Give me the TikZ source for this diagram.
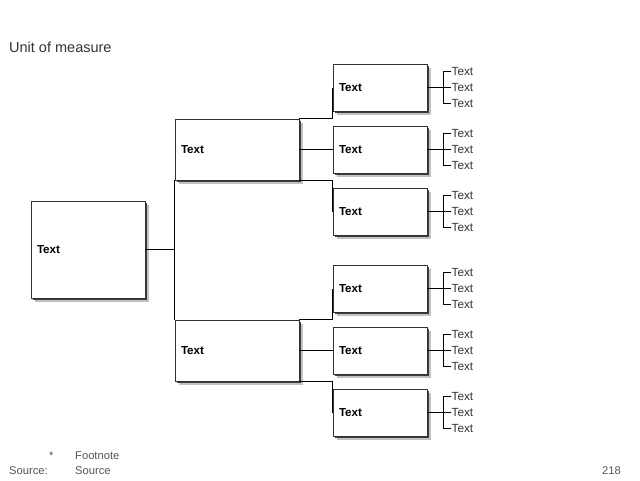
\documentclass[tikz,border=0pt]{standalone}
\usepackage{fontspec}
\setmainfont{Liberation Sans}
\usetikzlibrary{shadows}
\definecolor{edge}{HTML}{333333}
\definecolor{foot}{HTML}{555555}
\begin{document}
\begin{tikzpicture}[x=1pt,y=-1pt,
  box/.style={draw=edge, fill=white, line width=0.8pt, rectangle,
    general shadow={shadow xshift=3.5pt, shadow yshift=-3.5pt, fill=black!40, opacity=0.6},
    drop shadow={shadow xshift=2.2pt, shadow yshift=-2.2pt, fill=black!85, opacity=0.85},
    font=\bfseries\fontsize{11.6}{13}\selectfont, align=left, inner xsep=6pt, inner ysep=0pt},
  leaf/.style={font=\fontsize{11.8}{13}\selectfont, text=edge, anchor=west, inner sep=0pt},
  conn/.style={draw=black, line width=1pt},
  brk/.style={draw=black, line width=1pt},
  footn/.style={font=\fontsize{11.2}{12}\selectfont, text=foot, inner sep=0pt}]
\useasboundingbox (0,0) rectangle (640,480);

\node[font=\fontsize{14.5}{16}\selectfont, text=edge, anchor=west, inner sep=0pt] (title) at (9,47) {Unit of measure};

% root
\node[box, text width=102pt, minimum height=97pt] (root) at (88,249.5) {Text};
% level 2
\node[box, text width=112pt, minimum height=61pt] (a) at (237,149.5) {Text};
\node[box, text width=112pt, minimum height=61pt] (b) at (237,350.5) {Text};
% level 3
\foreach \n/\y in {a1/87.5, a2/149.5, a3/211.5, b1/288.5, b2/350.5, b3/412.5}{
  \node[box, text width=82pt, minimum height=47pt] (\n) at (380,\y) {Text};
}

% connectors root -> level 2
\coordinate (rj) at (175,249.5);
\draw[conn] (root.east) -- (rj);
\draw[conn] (a.south west) -- (b.north west);

% level 2 -> level 3
\draw[conn] (a.north east) -| (a1.west);
\draw[conn] (a.east) -- (a2.west);
\draw[conn] (a.south east) -| (a3.west);
\draw[conn] (b.north east) -| (b1.west);
\draw[conn] (b.east) -- (b2.west);
\draw[conn] (b.south east) -| (b3.west);

% leaves
\foreach \n in {a1,a2,a3,b1,b2,b3}{
  \coordinate (\n j) at ([xshift=11pt]\n.east);
  \node[leaf] (\n t1) at ([xshift=24pt,yshift=16pt]\n.east) {Text};
  \node[leaf] (\n t2) at ([xshift=24pt]\n.east) {Text};
  \node[leaf] (\n t3) at ([xshift=24pt,yshift=-16pt]\n.east) {Text};
  \draw[brk] (\n.east) -- (\n j);
  \draw[brk] (\n t1.west) -- ++(-8,0) |- (\n t3.west);
  \draw[brk] (\n j) -- (\n t2.west);
}

% footer
\node[footn, anchor=west] (star) at (49,456) {*};
\node[footn, anchor=west] (fn) at (75,456) {Footnote};
\node[footn, anchor=west] (src) at (9,471) {Source:};
\node[footn, anchor=west] (srct) at (75,471) {Source};
\node[footn, anchor=east] (pg) at (621,471) {218};
\end{tikzpicture}
\end{document}
